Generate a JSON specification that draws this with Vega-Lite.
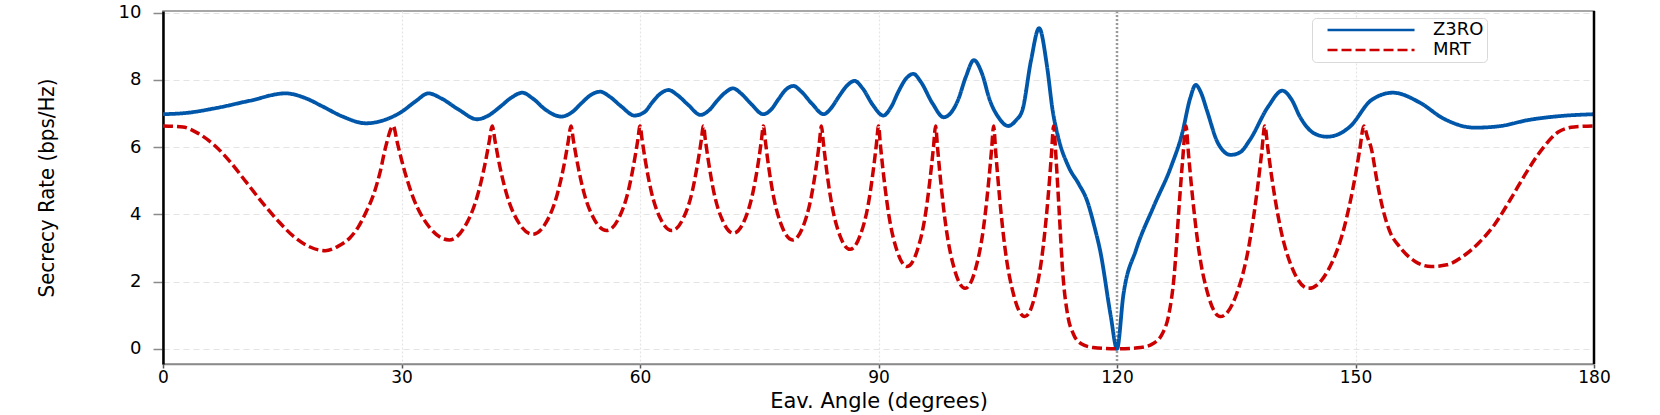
{
  "$schema": "https://vega.github.io/schema/vega-lite/v6.json",
  "width": 1431,
  "height": 353,
  "autosize": {"type": "none"},
  "padding": {"left": 163, "top": 11, "right": 66, "bottom": 51},
  "background": "white",
  "config": {
    "view": {"stroke": "#8a8a8a", "strokeWidth": 1.5},
    "legend": {
      "padding": 3,
      "strokeColor": "#d9d9d9",
      "fillColor": "#ffffff",
      "cornerRadius": 4,
      "symbolType": "M0.47,0H12.07",
      "symbolSize": 225,
      "symbolStrokeWidth": 2.5,
      "labelFont": "DejaVu Sans",
      "labelFontSize": 18,
      "labelColor": "#000000",
      "labelOffset": 100,
      "rowPadding": 2
    }
  },
  "datasets": {
    "z3ro": [
      {"a":0,"r":6.98},{"a":3,"r":7.02},{"a":6.4,"r":7.15},{"a":10.9,"r":7.38},{"a":15.4,"r":7.6},{"a":18,"r":7.45},{"a":20,"r":7.22},{"a":22.6,"r":6.91},{"a":25.5,"r":6.71},{"a":28,"r":6.82},
      {"a":30,"r":7.05},{"a":31.7,"r":7.35},{"a":33.4,"r":7.6},{"a":35,"r":7.45},{"a":37.3,"r":7.1},{"a":39.5,"r":6.83},{"a":41,"r":6.95},{"a":42.4,"r":7.2},{"a":43.8,"r":7.47},{"a":45.2,"r":7.62},
      {"a":46.5,"r":7.45},{"a":48.2,"r":7.1},{"a":50.1,"r":6.91},{"a":51.5,"r":7.05},{"a":52.6,"r":7.3},{"a":53.8,"r":7.55},{"a":55,"r":7.65},{"a":56.2,"r":7.5},{"a":57.7,"r":7.2},{"a":59.3,"r":6.94},
      {"a":60.6,"r":7.05},{"a":61.5,"r":7.32},{"a":62.5,"r":7.58},{"a":63.6,"r":7.7},{"a":64.7,"r":7.55},{"a":66.1,"r":7.25},{"a":67.6,"r":6.96},{"a":68.7,"r":7.1},{"a":69.7,"r":7.38},{"a":70.7,"r":7.62},
      {"a":71.7,"r":7.75},{"a":72.7,"r":7.6},{"a":74,"r":7.28},{"a":75.5,"r":6.98},{"a":76.5,"r":7.12},{"a":77.4,"r":7.42},{"a":78.3,"r":7.7},{"a":79.3,"r":7.82},{"a":80.3,"r":7.65},{"a":81.6,"r":7.3},
      {"a":83.1,"r":6.98},{"a":84,"r":7.15},{"a":85,"r":7.5},{"a":86,"r":7.82},{"a":87,"r":7.97},{"a":88,"r":7.75},{"a":89.3,"r":7.25},{"a":90.6,"r":6.94},{"a":91.6,"r":7.2},{"a":92.5,"r":7.65},
      {"a":93.5,"r":8.05},{"a":94.4,"r":8.18},{"a":95.3,"r":7.95},{"a":96.8,"r":7.3},{"a":98.2,"r":6.89},{"a":99.2,"r":7.05},{"a":100,"r":7.4},{"a":101,"r":8.1},{"a":102,"r":8.59},{"a":103,"r":8.2},
      {"a":104,"r":7.4},{"a":105.2,"r":6.85},{"a":106.3,"r":6.63},{"a":107.3,"r":6.8},{"a":108.1,"r":7.1},{"a":109.2,"r":8.6},{"a":110.2,"r":9.54},{"a":111.2,"r":8.4},{"a":111.9,"r":7.1},{"a":112.6,"r":6.3},
      {"a":113.9,"r":5.42},{"a":115.2,"r":4.9},{"a":116.2,"r":4.43},{"a":117.2,"r":3.6},{"a":117.9,"r":2.9},{"a":119.2,"r":1.0},{"a":120,"r":0},{"a":120.8,"r":1.6},{"a":122.4,"r":2.95},{"a":124.6,"r":4.23},
      {"a":126.8,"r":5.42},{"a":128.2,"r":6.41},{"a":129.2,"r":7.45},{"a":129.9,"r":7.85},{"a":130.6,"r":7.6},{"a":131.3,"r":7.1},{"a":132.7,"r":6.12},{"a":134.3,"r":5.77},{"a":135.5,"r":5.85},{"a":136.7,"r":6.21},
      {"a":139,"r":7.2},{"a":140.8,"r":7.68},{"a":142,"r":7.4},{"a":143,"r":6.91},{"a":144.8,"r":6.41},{"a":146.4,"r":6.31},{"a":148,"r":6.4},{"a":149.3,"r":6.61},{"a":152,"r":7.4},{"a":154.7,"r":7.62},
      {"a":158.2,"r":7.31},{"a":161,"r":6.86},{"a":165,"r":6.58},{"a":168,"r":6.62},{"a":171.8,"r":6.81},{"a":176,"r":6.93},{"a":180,"r":6.98}
    ],
    "mrt": [
      {"a":0,"r":6.63},{"a":2.5,"r":6.6},{"a":4.5,"r":6.4},{"a":6.5,"r":6.05},{"a":8.5,"r":5.55},{"a":10.5,"r":4.95},{"a":12.5,"r":4.35},{"a":14.5,"r":3.8},{"a":16.5,"r":3.33},{"a":18.5,"r":3.03},
      {"a":20.4,"r":2.92},{"a":22,"r":3.05},{"a":23.5,"r":3.3},{"a":24.5,"r":3.6},{"a":25.5,"r":4.05},{"a":26.5,"r":4.6},{"a":27.3,"r":5.25},{"a":28,"r":6.0},{"a":28.96,"r":6.63},
      {"a":29.45,"r":6.16},{"a":30.02,"r":5.61},{"a":31.42,"r":4.53},{"a":33.54,"r":3.61},{"a":36,"r":3.24},{"a":37.89,"r":3.61},{"a":39.52,"r":4.53},{"a":40.6,"r":5.61},{"a":41.03,"r":6.16},{"a":41.41,"r":6.63},
      {"a":41.77,"r":6.18},{"a":42.17,"r":5.66},{"a":43.19,"r":4.63},{"a":44.72,"r":3.76},{"a":46.5,"r":3.41},{"a":48.19,"r":3.76},{"a":49.63,"r":4.63},{"a":50.6,"r":5.66},{"a":50.98,"r":6.18},{"a":51.32,"r":6.63},
      {"a":51.63,"r":6.19},{"a":51.99,"r":5.7},{"a":52.89,"r":4.7},{"a":54.23,"r":3.86},{"a":55.8,"r":3.52},{"a":57.27,"r":3.86},{"a":58.53,"r":4.7},{"a":59.37,"r":5.7},{"a":59.71,"r":6.19},{"a":60,"r":6.63},
      {"a":60.28,"r":6.19},{"a":60.6,"r":5.7},{"a":61.4,"r":4.7},{"a":62.6,"r":3.86},{"a":64,"r":3.52},{"a":65.39,"r":3.86},{"a":66.59,"r":4.7},{"a":67.38,"r":5.7},{"a":67.7,"r":6.19},{"a":67.98,"r":6.63},
      {"a":68.24,"r":6.18},{"a":68.55,"r":5.67},{"a":69.3,"r":4.65},{"a":70.44,"r":3.79},{"a":71.75,"r":3.44},{"a":73.08,"r":3.79},{"a":74.2,"r":4.65},{"a":74.96,"r":5.67},{"a":75.26,"r":6.18},{"a":75.52,"r":6.63},
      {"a":75.78,"r":6.16},{"a":76.07,"r":5.61},{"a":76.8,"r":4.53},{"a":77.91,"r":3.61},{"a":79.2,"r":3.24},{"a":80.46,"r":3.61},{"a":81.55,"r":4.53},{"a":82.28,"r":5.61},{"a":82.57,"r":6.16},{"a":82.82,"r":6.63},
      {"a":83.07,"r":6.12},{"a":83.36,"r":5.53},{"a":84.08,"r":4.35},{"a":85.16,"r":3.36},{"a":86.42,"r":2.96},{"a":87.67,"r":3.36},{"a":88.75,"r":4.35},{"a":89.46,"r":5.53},{"a":89.75,"r":6.12},{"a":90,"r":6.63},
      {"a":90.25,"r":6.04},{"a":90.54,"r":5.38},{"a":91.26,"r":4.04},{"a":92.34,"r":2.91},{"a":93.6,"r":2.45},{"a":94.85,"r":2.91},{"a":95.93,"r":4.04},{"a":96.64,"r":5.38},{"a":96.93,"r":6.04},{"a":97.18,"r":6.63},
      {"a":97.44,"r":5.95},{"a":97.74,"r":5.18},{"a":98.48,"r":3.64},{"a":99.6,"r":2.33},{"a":100.9,"r":1.8},{"a":102.15,"r":2.33},{"a":103.23,"r":3.64},{"a":103.94,"r":5.18},{"a":104.23,"r":5.95},{"a":104.48,"r":6.63},
      {"a":104.75,"r":5.84},{"a":105.07,"r":4.93},{"a":105.85,"r":3.11},{"a":107.03,"r":1.58},{"a":108.4,"r":0.96},{"a":109.67,"r":1.58},{"a":110.75,"r":3.11},{"a":111.48,"r":4.93},{"a":111.77,"r":5.84},{"a":112.02,"r":6.63},
      {"a":112.35,"r":5.6},{"a":112.7,"r":4.2},{"a":113.2,"r":2.2},{"a":113.8,"r":1.0},{"a":114.5,"r":0.45},{"a":115.5,"r":0.15},{"a":117,"r":0.04},{"a":120,"r":0},{"a":123,"r":0.04},{"a":124.5,"r":0.15},
      {"a":125.7,"r":0.45},{"a":126.5,"r":1.0},{"a":127.2,"r":2.2},{"a":127.8,"r":4.2},{"a":128.25,"r":5.6},{"a":128.68,"r":6.63},
      {"a":128.98,"r":5.84},{"a":129.33,"r":4.93},{"a":130.19,"r":3.11},{"a":131.49,"r":1.58},{"a":133,"r":0.96},{"a":134.96,"r":1.58},{"a":136.63,"r":3.11},{"a":137.75,"r":4.93},{"a":138.2,"r":5.84},{"a":138.59,"r":6.63},
      {"a":138.98,"r":5.95},{"a":139.42,"r":5.18},{"a":140.52,"r":3.64},{"a":142.17,"r":2.33},{"a":144.1,"r":1.8},{"a":146.53,"r":2.33},{"a":148.61,"r":3.64},{"a":150,"r":5.18},{"a":150.55,"r":5.95},{"a":151.04,"r":6.63},
      {"a":151.5,"r":6.3},{"a":152,"r":5.95},{"a":152.7,"r":5.0},{"a":153.4,"r":4.2},{"a":154.3,"r":3.5},{"a":155.5,"r":3.05},{"a":157.5,"r":2.6},{"a":159.5,"r":2.45},{"a":161.5,"r":2.5},{"a":163.5,"r":2.75},
      {"a":165.5,"r":3.15},{"a":167.5,"r":3.7},{"a":169.5,"r":4.45},{"a":171.5,"r":5.25},{"a":173.5,"r":5.95},{"a":175.5,"r":6.45},{"a":177.5,"r":6.6},{"a":180,"r":6.63}
    ]
  },
  "layer": [
    {
      "data": {"values": [{"a": 120}]},
      "mark": {"type": "rule", "color": "#9a9a9a", "strokeWidth": 2.5, "strokeDash": [2, 2]},
      "encoding": {"x": {"field": "a", "type": "quantitative"}}
    },
    {
      "data": {"name": "z3ro"},
      "transform": [{"calculate": "'Z3RO'", "as": "s"}],
      "mark": {"type": "line", "strokeWidth": 3.8, "interpolate": "monotone"},
      "encoding": {
        "x": {
          "field": "a", "type": "quantitative",
          "scale": {"domain": [0, 180], "nice": false, "zero": false},
          "axis": {
            "values": [0, 30, 60, 90, 120, 150, 180], "format": "d",
            "title": "Eav. Angle (degrees)",
            "domainColor": "#8a8a8a", "domainWidth": 1.5,
            "tickColor": "#555555", "tickSize": 4, "tickWidth": 1.5,
            "labelFont": "DejaVu Sans", "labelFontSize": 17, "labelColor": "#000000", "labelPadding": 1,
            "labelFlush": false, "labelOverlap": false,
            "titleFont": "DejaVu Sans", "titleFontSize": 21, "titleFontWeight": "normal", "titleColor": "#000000",
            "titleY": 43, "titleBaseline": "alphabetic",
            "grid": true, "gridColor": "#e4e4e4", "gridDash": [2, 2], "gridWidth": 1.2
          }
        },
        "y": {
          "field": "r", "type": "quantitative",
          "scale": {"domain": [-0.45, 10.05], "nice": false, "zero": false},
          "axis": {
            "values": [0, 2, 4, 6, 8, 10], "format": "d",
            "title": "Secrecy Rate (bps/Hz)",
            "domainColor": "#000000", "domainWidth": 2.5,
            "tickColor": "#8a8a8a", "tickSize": 10, "tickWidth": 1.5,
            "labelFont": "DejaVu Sans", "labelFontSize": 18, "labelColor": "#000000", "labelPadding": 12,
            "labelFlush": false, "labelOverlap": false,
            "titleFont": "Liberation Sans Narrow, DejaVu Sans Condensed, Liberation Sans", "titleFontSize": 22,
            "titleFontWeight": "normal", "titleColor": "#000000",
            "titleX": -110, "titleY": 176.5, "titleBaseline": "alphabetic", "titleAngle": -90,
            "grid": true, "gridColor": "#e4e4e4", "gridDash": [6, 4], "gridWidth": 1.2
          }
        },
        "color": {
          "field": "s", "type": "nominal",
          "scale": {"domain": ["Z3RO", "MRT"], "range": ["#0056a8", "#cc0000"]},
          "legend": {"orient": "none", "legendX": 1149, "legendY": 7, "title": null}
        },
        "strokeDash": {
          "field": "s", "type": "nominal",
          "scale": {"domain": ["Z3RO", "MRT"], "range": [[1, 0], [10, 4]]},
          "legend": {"orient": "none", "legendX": 1149, "legendY": 7, "title": null}
        }
      }
    },
    {
      "data": {"name": "mrt"},
      "transform": [{"calculate": "'MRT'", "as": "s"}],
      "mark": {"type": "line", "strokeWidth": 3.5, "interpolate": "monotone"},
      "encoding": {
        "x": {"field": "a", "type": "quantitative"},
        "y": {"field": "r", "type": "quantitative"},
        "color": {"field": "s", "type": "nominal", "legend": {"orient": "none", "legendX": 1149, "legendY": 7, "title": null}},
        "strokeDash": {"field": "s", "type": "nominal", "legend": {"orient": "none", "legendX": 1149, "legendY": 7, "title": null}}
      }
    },
    {
      "data": {"values": [{"a": 180}]},
      "mark": {"type": "rule", "color": "#000000", "strokeWidth": 2.5},
      "encoding": {"x": {"field": "a", "type": "quantitative"}}
    }
  ]
}
